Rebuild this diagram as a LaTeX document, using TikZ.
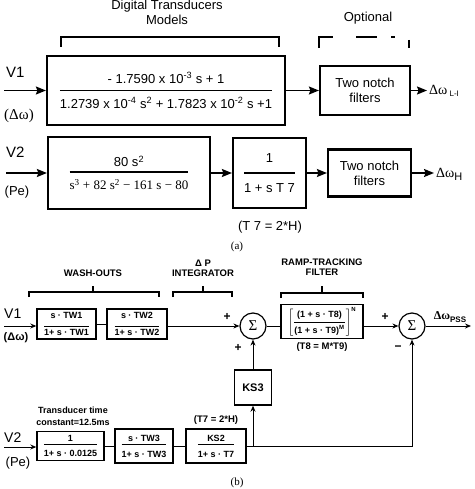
\documentclass[tikz,border=0pt]{standalone}
\usepackage{fontspec}
\usepackage{amsmath}
\setmainfont{Liberation Sans}
\newfontfamily\tms{Liberation Serif}
\usetikzlibrary{arrows.meta}
% fraction: rule, numerator depth, denominator height, num, den
\newcommand{\tfr}[5]{$\genfrac{}{}{#1}{0}{\text{#4\rule[-#2]{0pt}{0pt}}}{\text{\rule{0pt}{#3}#5}}$}

\begin{document}
\begin{tikzpicture}[x=1pt,y=-1pt,
    blka/.style={draw, line width=2.2pt, inner sep=0pt, align=center, font=\fontsize{13}{15}\selectfont},
    arra/.style={line width=1.5pt, -{Stealth[length=10pt,width=8pt,inset=1.5pt]}},
    txta/.style={inner sep=0pt, align=center, font=\fontsize{13}{15}\selectfont},
    blkb/.style={draw, line width=1.4pt, inner sep=0pt, align=center, font=\fontsize{9}{11}\selectfont\bfseries},
    arrb/.style={line width=0.9pt, -{Stealth[length=6pt,width=5pt]}},
    lnb/.style={line width=0.9pt},
    txtb/.style={inner sep=0pt, align=center, font=\fontsize{9.5}{10}\selectfont\bfseries},
    sumb/.style={draw, circle, line width=1.2pt, minimum size=26pt, inner sep=0pt, font=\fontsize{15}{15}\tms\selectfont},
    brk/.style={line width=1.3pt}]

  \useasboundingbox (0,0) rectangle (474,489);

  % (a) digital transducers
  \node[txta] (dtm) at (167,6)  {Digital Transducers};
  \node[txta] (mdl) at (167,20) {Models};
  \node[txta] (opt) at (368,18) {Optional};
  \draw[brk] (61,47) -- (61,37) -- (279,37) -- (279,47);
  \draw[brk, dash pattern=on 25pt off 23pt on 21pt off 14pt on 4pt off 17pt on 10pt]
    (319,48) -- (319,37) -- (409,37) -- (409,48);

  \node[txta, anchor=west, font=\fontsize{15}{17}\selectfont] (v1) at (6,72) {V1};
  \node[txta, font=\fontsize{15}{17}\tms\selectfont] (dw1) at (19,116) {(Δω)};
  \coordinate (in1) at (4,90.5);
  \node[blka, minimum width=238pt, minimum height=69pt] (tf1) at (166,90.5)
    {\tfr{1.5pt}{2.2pt}{12.3pt}{- 1.7590 x 10\textsuperscript{-3} s + 1}{1.2739 x 10\textsuperscript{-4} s\textsuperscript{2} + 1.7823 x 10\textsuperscript{-2} s +1}};
  \node[blka, minimum width=90pt, minimum height=49pt] (nf1) at (365,90.5) {Two notch\\filters};
  \coordinate (out1) at (427,90.5);
  \node[txta, anchor=west] (lw1) at (429,91)
    {{\fontsize{14}{14}\tms\selectfont Δω}\,\raisebox{-2.5pt}{\fontsize{8}{9}\selectfont L-I}};

  \draw[arra] (in1) -- (tf1);
  \draw[arra] (tf1) -- (nf1);
  \draw[arra] (nf1) -- (out1);

  \node[txta, anchor=west, font=\fontsize{15}{17}\selectfont] (v2) at (6,152) {V2};
  \node[txta] (pe1) at (17,192) {(Pe)};
  \coordinate (in2) at (6,173);
  \node[blka, minimum width=162pt, minimum height=72pt] (tf2) at (129,173)
    {\tfr{1.5pt}{0pt}{12.3pt}{80 s\textsuperscript{2}}{\tms s\textsuperscript{3} + 82 s\textsuperscript{2} − 161 s − 80}};
  \node[blka, minimum width=73pt, minimum height=70pt] (tf3) at (269.5,173)
    {\tfr{1.5pt}{5.25pt}{14.25pt}{1}{1 + s T 7}};
  \node[txta] (t7a) at (270,227) {(T 7 = 2*H)};
  \node[blka, minimum width=83pt, minimum height=47pt] (nf2) at (369.5,173) {Two notch\\filters};
  \coordinate (out2) at (434,173);
  \node[txta, anchor=west] (lw2) at (436,174)
    {{\fontsize{14}{14}\tms\selectfont Δω}\raisebox{-3pt}{\fontsize{11}{11}\selectfont H}};

  \draw[arra] (in2) -- (tf2);
  \draw[arra] (tf2) -- (tf3);
  \draw[arra] (tf3) -- (nf2);
  \draw[arra] (nf2) -- (out2);

  \node[txta, font=\fontsize{11}{12}\tms\selectfont] (cpa) at (237,247) {(a)};

  % (b) stabilizer
  \node[txtb] (wsh) at (93,273)    {WASH-OUTS};
  \node[txtb] (dpi) at (203,268)   {Δ P\\INTEGRATOR};
  \node[txtb] (rtl) at (322,267.5) {RAMP-TRACKING\\FILTER};
  \draw[brk] (29,297) -- (29,292) -- (159,292) -- (159,297) (93,292) -- (93,286);
  \draw[brk] (173,297) -- (173,292) -- (232,292) -- (232,297) (203,292) -- (203,286);
  \draw[brk] (281,298) -- (281,293) -- (363,293) -- (363,298) (322,293) -- (322,286);

  \node[txta, anchor=west, font=\fontsize{14}{16}\selectfont] (v1b) at (4,314) {V1};
  \node[txtb, font=\fontsize{11}{12}\selectfont\bfseries] (dw2) at (16,338) {(Δω)};
  \coordinate (in3) at (4,326);
  \node[blkb, minimum width=59pt, minimum height=30pt] (wo1) at (66.5,324)
    {\tfr{0.8pt}{5pt}{0pt}{s · TW1}{1+ s · TW1}};
  \node[blkb, minimum width=60pt, minimum height=30pt] (wo2) at (137,324)
    {\tfr{0.8pt}{5pt}{0pt}{s · TW2}{1+ s · TW2}};
  \node[sumb] (sum1) at (253,326) {Σ};
  \node[blkb, minimum width=82pt, minimum height=34pt, font=\fontsize{9}{10}\selectfont\bfseries] (rtf) at (322,321.5)
    {$\left[\genfrac{}{}{0.8pt}{0}{\text{(1 + s · T8)}}{\text{(1 + s · T9)}^{\text{M}}}\right]^{\text{N}}$};
  \node[txtb] (t8) at (322,347) {(T8 = M*T9)};
  \node[sumb] (sum2) at (412,326) {Σ};
  \coordinate (out3) at (471,326);
  \node[txtb] (pss) at (450,317)
    {{\fontsize{12}{12}\tms\selectfont Δω}\raisebox{-2.5pt}{\fontsize{8}{8}\selectfont PSS}};

  \node[txtb, font=\fontsize{12}{12}\selectfont\bfseries] (p1) at (227,317) {+};
  \node[txtb, font=\fontsize{12}{12}\selectfont\bfseries] (p2) at (238,348) {+};
  \node[txtb, font=\fontsize{12}{12}\selectfont\bfseries] (p3) at (385,317) {+};
  \node[txtb, font=\fontsize{12}{12}\selectfont\bfseries] (m1) at (398,348) {−};

  \draw[arrb] (in3) -- (in3 -| wo1.west);
  \draw[lnb] (wo1) -- (wo2);
  \draw[arrb] (wo2.east |- sum1) -- (sum1);
  \draw[lnb] (sum1) -- (sum1 -| rtf.west);
  \draw[arrb] (rtf.east |- sum2) -- (sum2);
  \draw[arrb] (sum2) -- (out3);

  \node[txtb, font=\fontsize{9}{12}\selectfont\bfseries] (tdc) at (73,416) {Transducer time\\constant=12.5ms};
  \node[txtb] (t7b) at (216,420) {(T7 = 2*H)};
  \node[txta, anchor=west, font=\fontsize{14}{16}\selectfont] (v2b) at (4,438) {V2};
  \node[txta] (pe2) at (18,463) {(Pe)};
  \coordinate (in4) at (4,447);
  \node[blkb, minimum width=67pt, minimum height=29pt] (t1) at (70.5,446)
    {\tfr{0.8pt}{0pt}{9.5pt}{1}{1+ s · 0.0125}};
  \node[blkb, minimum width=58pt, minimum height=34pt] (wo3) at (144,446)
    {\tfr{0.8pt}{0pt}{9.5pt}{s · TW3}{1+ s · TW3}};
  \node[blkb, minimum width=60pt, minimum height=34pt] (ks2) at (216,446)
    {\tfr{0.8pt}{0pt}{9.5pt}{KS2}{1+ s · T7}};
  \node[blkb, minimum width=37pt, minimum height=35pt, font=\fontsize{11}{12}\selectfont\bfseries] (ks3) at (253,387.5) {KS3};
  \coordinate (br) at (ks3 |- ks2.east);

  \draw[arrb] (in4) -- (in4 -| t1.west);
  \draw[lnb] (t1) -- (wo3);
  \draw[lnb] (wo3) -- (ks2);
  \draw[arrb] (ks2.east) -| (sum2);
  \draw[arrb] (br) -- (ks3);
  \draw[arrb] (ks3) -- (sum1);

  \node[txta, font=\fontsize{11}{12}\tms\selectfont] (cpb) at (237,483) {(b)};

\end{tikzpicture}
\end{document}
